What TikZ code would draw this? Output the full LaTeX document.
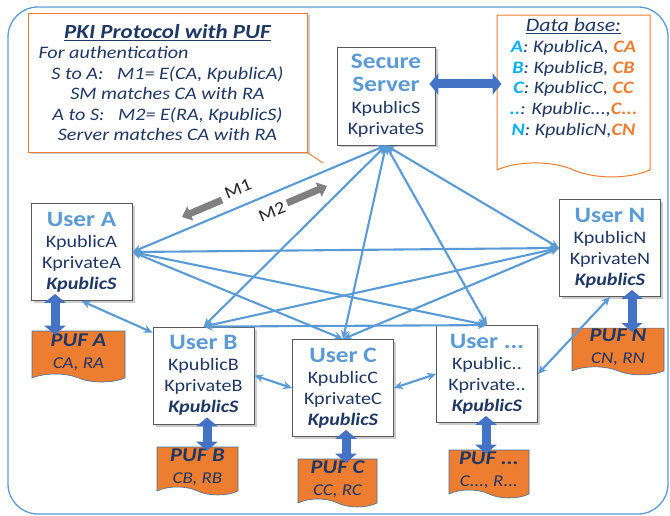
\documentclass[tikz,border=0pt]{standalone}
\usepackage{fontspec}
\setmainfont{Carlito}[FakeStretch=1.15]
\usepackage{tikz}
\usetikzlibrary{arrows.meta,shapes.symbols,shadows,positioning}
\definecolor{navy}{HTML}{1F3864}
\definecolor{skyblue}{HTML}{5B9BD5}
\definecolor{darkblue}{HTML}{4472C4}
\definecolor{pufOrange}{HTML}{ED7D31}
\definecolor{dbCyan}{HTML}{00B0F0}
\definecolor{pufEdge}{HTML}{41719C}
\newcommand{\usertitle}[1]{{\fontsize{22}{24}\selectfont\bfseries\color{skyblue}#1}}
\newcommand{\keyS}{\textbf{\textit{KpublicS}}}
\newcommand{\dbkey}[1]{\textbf{\textcolor{dbCyan}{#1}}}
\newcommand{\dbval}[1]{\textbf{\textcolor{pufOrange}{#1}}}
\newcommand{\pufname}[1]{{\fontsize{19.5}{22}\selectfont\bfseries #1}}
\tikzset{
  userbox/.style={draw=black!65, fill=white, line width=0.8pt, minimum width=101pt,
    minimum height=97pt, inner sep=1pt, align=center, text=navy,
    font=\fontsize{17.5}{21}\selectfont,
    drop shadow={shadow xshift=2.5pt, shadow yshift=-2.5pt, opacity=0.4}},
  notebox/.style={draw=pufOrange, fill=white, line width=0.9pt, minimum width=279pt,
    minimum height=139pt, align=center, text=navy,
    font=\itshape\fontsize{17.5}{20.5}\selectfont,
    drop shadow={shadow xshift=2.5pt, shadow yshift=-2.5pt, opacity=0.4}},
  dbbox/.style={tape, tape bend top=none, tape bend bottom=out and in, tape bend height=14pt,
    draw=pufOrange, fill=white, line width=1pt, minimum width=153pt, minimum height=152pt,
    text depth=24pt, align=center, text=navy, font=\itshape\fontsize{17.5}{20.8}\selectfont},
  puf/.style={tape, tape bend top=none, tape bend bottom=out and in, tape bend height=8pt,
    fill=pufOrange, draw=pufEdge, line width=0.6pt, minimum height=48pt, inner sep=1pt,
    align=center, text=navy, font=\itshape\fontsize{16.5}{22}\selectfont},
  link/.style={draw=skyblue, line width=2.1pt,
    {Stealth[length=9pt,width=8pt]}-{Stealth[length=9pt,width=8pt]}},
  fatlink/.style={draw=darkblue, line width=9pt, shorten <=-7pt, shorten >=-4pt,
    {Triangle[width=21pt,length=9pt]}-{Triangle[width=21pt,length=9pt]}},
  msgarrow/.style={draw=black!50, line width=7pt, -{Triangle[width=15pt,length=9pt]}},
  msglabel/.style={text=black!85, font=\fontsize{17.5}{20}\selectfont, rotate=22, inner sep=0pt}
}

\begin{document}
\begin{tikzpicture}[x=1pt, y=-1pt]
  \useasboundingbox (0,0) rectangle (670,516);
  % Frame
  \draw[skyblue, line width=1.3pt, rounded corners=30pt] (8,7) rectangle (668,514);
  % Protocol note
  \node[notebox] (note) at (167.5,82.5) {{\fontsize{20}{22}\selectfont\bfseries\underline{PKI Protocol with PUF}}\\
    \makebox[258pt][l]{For authentication}\\
    S to A:\ \ \ M1= E(CA, KpublicA)\\
    SM matches CA with RA\\
    A to S:\ \ \ M2= E(RA, KpublicS)\\
    Server matches CA with RA};
  \coordinate (tail) at (323,163);
  \draw[pufOrange, line width=0.9pt] (note.south east) -- (tail);
  % Server and data base
  \node[userbox, minimum width=98pt, minimum height=98pt] (server) at (386,96)
    {\usertitle{Secure}\\[2pt]\usertitle{Server}\\[1pt]KpublicS\\KprivateS};
  \node[dbbox] (db) at (573.5,89) {{\fontsize{19}{21}\selectfont\underline{Data base:}}\\
    \dbkey{A}: KpublicA, \dbval{CA}\\
    \dbkey{B}: KpublicB, \dbval{CB}\\
    \dbkey{C}: KpublicC, \dbval{CC}\\
    \dbkey{..}: Kpublic...,\dbval{C...}\\
    \dbkey{N}: KpublicN,\dbval{CN}};
  \draw[fatlink, shorten <=-6pt, shorten >=-5pt] ([yshift=12pt]server.east) -- ([yshift=12pt]server.east -| db.west);
  % Users
  \node[userbox] (userA) at (81.5,252) {\usertitle{User A}\\KpublicA\\KprivateA\\\keyS};
  \node[userbox] (userB) at (203.5,375.5) {\usertitle{User B}\\KpublicB\\KprivateB\\\keyS};
  \node[userbox] (userC) at (343,388) {\usertitle{User C}\\KpublicC\\KprivateC\\\keyS};
  \node[userbox] (userD) at (487,374) {\usertitle{User ...}\\Kpublic..\\Kprivate..\\\keyS};
  \node[userbox] (userN) at (610,248) {\usertitle{User N}\\KpublicN\\KprivateN\\\keyS};
  % PUFs
  \node[puf, minimum width=93pt, minimum height=51pt] (pufA) at (78.5,352.5) {\pufname{PUF A}\\CA, RA};
  \node[puf, minimum width=81pt] (pufB) at (197.5,467) {\pufname{PUF B}\\CB, RB};
  \node[puf, minimum width=79pt] (pufC) at (337.5,479) {\pufname{PUF C}\\CC, RC};
  \node[puf, minimum width=80pt] (pufD) at (489,470) {\pufname{PUF ...}\\C..., R...};
  \node[puf, minimum width=92pt, minimum height=45pt] (pufN) at (618,347.5) {\pufname{PUF N}\\CN, RN};
  % Links
  \foreach \u in {userA.east, userB.north, userC.north, userD.north, userN.west}
    \draw[link] (server.south) -- (\u);
  \draw[link] (userA.east) -- (userN.west);
  \draw[link] (userA.east) -- (userC.north);
  \draw[link] (userA.east) -- (userD.north);
  \draw[link] (userN.west) -- (userB.north);
  \draw[link] (userN.west) -- (userC.north);
  \draw[link] (userB.north) -- (userD.north);
  \draw[link] (userA.south) -- ([yshift=-6pt]userB.north west);
  \draw[link] (userB.east) -- (userC.west);
  \draw[link] (userC.east) -- (userD.west);
  \draw[link] (userD.east) -- (userN.south);
  % User to PUF
  \draw[fatlink] (userA.south -| 55,0) -- (pufA.north -| 55,0);
  \draw[fatlink] (userB.south -| 207,0) -- (pufB.north -| 207,0);
  \draw[fatlink] (userC.south -| 346,0) -- (pufC.north -| 346,0);
  \draw[fatlink] (userD.south -| 486,0) -- (pufD.north -| 486,0);
  \draw[fatlink] (userN.south -| 632,0) -- (pufN.north -| 632,0);
  % Messages
  \coordinate (m1tail) at (222,200);
  \coordinate (m1head) at (182,217);
  \coordinate (m2tail) at (287,203);
  \coordinate (m2head) at (327,186);
  \draw[msgarrow] (m1tail) -- (m1head);
  \draw[msgarrow] (m2tail) -- (m2head);
  \node[msglabel] (m1) at (238,189) {M1};
  \node[msglabel] (m2) at (272,212) {M2};
\end{tikzpicture}
\end{document}
